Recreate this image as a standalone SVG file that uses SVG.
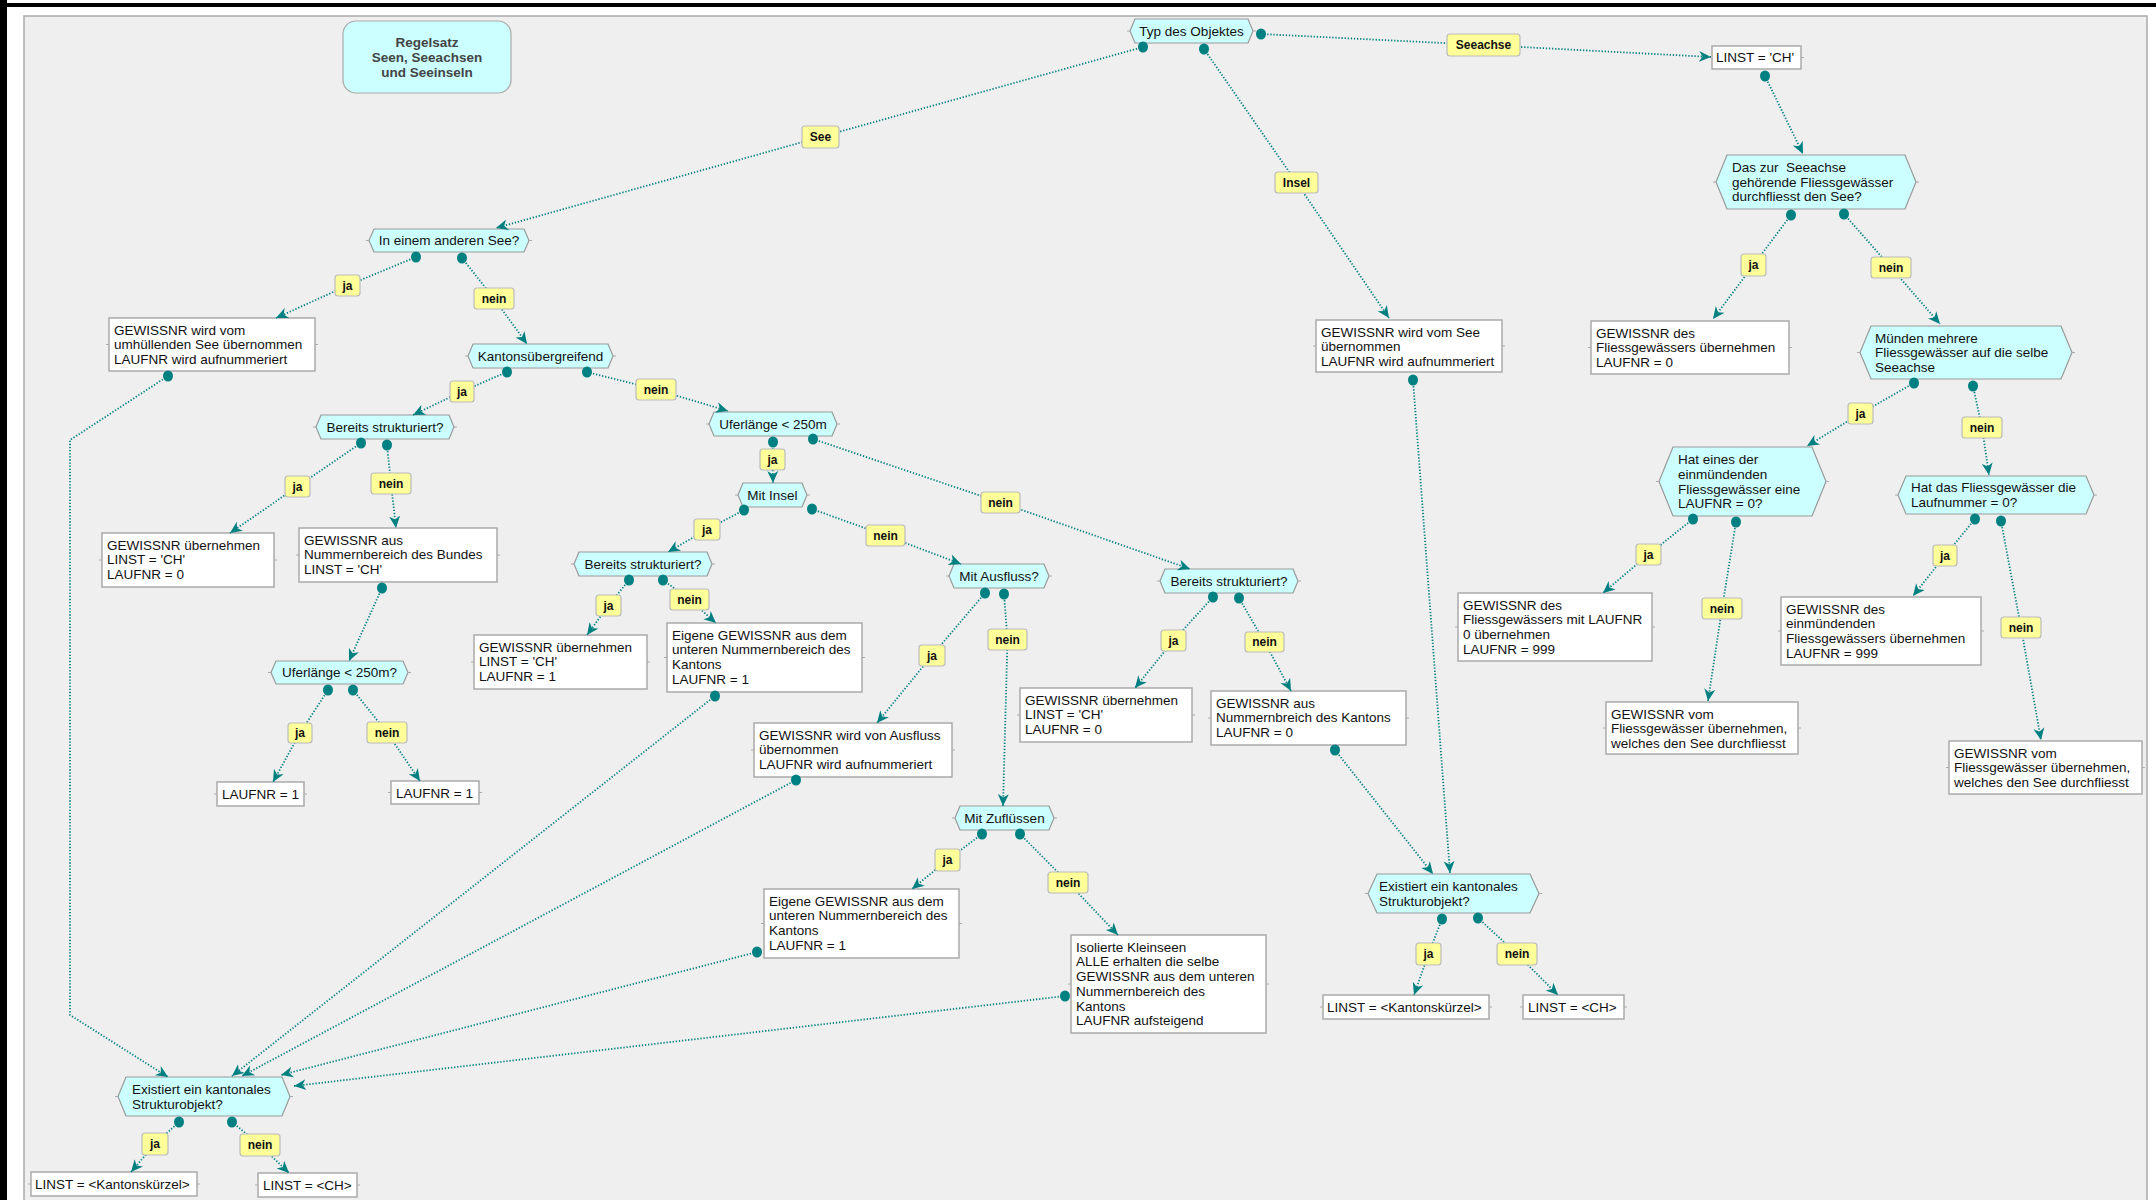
<svg xmlns="http://www.w3.org/2000/svg" width="2156" height="1200" viewBox="0 0 2156 1200">
<defs>
<style>
text{font-family:"Liberation Sans",Arial,sans-serif;font-size:13.5px;fill:#111}
.hx{fill:#ccffff;stroke:#999;stroke-width:1.2}
.bx{fill:#fff;stroke:#aaa;stroke-width:1.5}
.lb{fill:#ffff99;stroke:#bbb;stroke-width:1.2}
.lt{font-weight:bold;font-size:12px;text-anchor:middle}
.c{text-anchor:middle}
.tk{stroke:#aaa;stroke-width:1;fill:none}
.cn{fill:none;stroke:#008080;stroke-width:1.8;stroke-dasharray:1.3 1.8;marker-start:url(#dot);marker-end:url(#arr)}
.ttl{font-weight:bold;fill:#444;text-anchor:middle}
</style>
<marker id="arr" markerUnits="userSpaceOnUse" markerWidth="14" markerHeight="14" refX="12" refY="6" orient="auto" viewBox="0 0 14 12"><path d="M0,0.5 L12,6 L0,11.5 L3.5,6 Z" fill="#008080"/></marker>
<marker id="dot" markerUnits="userSpaceOnUse" markerWidth="12" markerHeight="13" refX="6" refY="6.5" viewBox="0 0 12 13"><ellipse cx="6" cy="6.5" rx="5" ry="5.6" fill="#008080"/></marker>
</defs>
<rect x="0" y="0" width="2156" height="1200" fill="#fff"/>
<rect x="0" y="3" width="2156" height="4" fill="#000"/>
<rect x="0" y="0" width="7" height="1200" fill="#000"/>
<rect x="24" y="16" width="2123" height="1200" fill="#efefef" stroke="#aaa" stroke-width="1.5"/>

<g id="title"><rect x="343" y="21" width="168" height="72" rx="13" fill="#ccffff" stroke="#aaa" stroke-width="1.2"/>
<text class="ttl" x="427" y="46.7">Regelsatz</text><text class="ttl" x="427" y="61.7">Seen, Seeachsen</text><text class="ttl" x="427" y="76.7">und Seeinseln</text></g>

<g id="n_typ"><polygon class="hx" points="1130,31 1135,19 1248,19 1253,31 1248,43 1135,43"/><path class="tk" d="M1127,31h3M1253,31h3"/><text class="c" x="1191.5" y="35.7">Typ des Objektes</text></g>
<g id="n_anderer_see"><polygon class="hx" points="369,240.5 374,229 524,229 529,240.5 524,252 374,252"/><path class="tk" d="M366,240.5h3M529,240.5h3"/><text class="c" x="449" y="245.2">In einem anderen See?</text></g>
<g id="n_kantons"><polygon class="hx" points="468,356 473,344 608,344 613,356 608,368 473,368"/><path class="tk" d="M465,356h3M613,356h3"/><text class="c" x="540.5" y="360.7">Kantonsübergreifend</text></g>
<g id="n_bereits_l"><polygon class="hx" points="316,427 321,415 449,415 454,427 449,439 321,439"/><path class="tk" d="M313,427h3M454,427h3"/><text class="c" x="385" y="431.7">Bereits strukturiert?</text></g>
<g id="n_ufer_l"><polygon class="hx" points="271,672.5 276,661 403,661 408,672.5 403,684 276,684"/><path class="tk" d="M268,672.5h3M408,672.5h3"/><text class="c" x="339.5" y="677.2">Uferlänge &lt; 250m?</text></g>
<g id="n_ufer_m"><polygon class="hx" points="709,424 714,412 832,412 837,424 832,436 714,436"/><path class="tk" d="M706,424h3M837,424h3"/><text class="c" x="773" y="428.7">Uferlänge &lt; 250m</text></g>
<g id="n_insel"><polygon class="hx" points="738,495 743,483 802,483 807,495 802,507 743,507"/><path class="tk" d="M735,495h3M807,495h3"/><text class="c" x="772.5" y="499.7">Mit Insel</text></g>
<g id="n_bereits_m"><polygon class="hx" points="574,564 579,552 707,552 712,564 707,576 579,576"/><path class="tk" d="M571,564h3M712,564h3"/><text class="c" x="643" y="568.7">Bereits strukturiert?</text></g>
<g id="n_ausfluss"><polygon class="hx" points="949,576 954,564 1044,564 1049,576 1044,588 954,588"/><path class="tk" d="M946,576h3M1049,576h3"/><text class="c" x="999" y="580.7">Mit Ausfluss?</text></g>
<g id="n_bereits_r"><polygon class="hx" points="1160,581 1165,569 1293,569 1298,581 1293,593 1165,593"/><path class="tk" d="M1157,581h3M1298,581h3"/><text class="c" x="1229" y="585.7">Bereits strukturiert?</text></g>
<g id="n_zufluesse"><polygon class="hx" points="955,818 960,806 1049,806 1054,818 1049,830 960,830"/><path class="tk" d="M952,818h3M1054,818h3"/><text class="c" x="1004.5" y="822.7">Mit Zuflüssen</text></g>
<g id="n_daszur"><polygon class="hx" points="1716,182 1727,155 1905,155 1916,182 1905,209 1727,209"/><path class="tk" d="M1713,182h3M1916,182h3"/><text x="1732" y="172" xml:space="preserve" style="white-space:pre">Das zur  Seeachse</text><text x="1732" y="186.7">gehörende Fliessgewässer</text><text x="1732" y="201.4">durchfliesst den See?</text></g>
<g id="n_muenden"><polygon class="hx" points="1860,352.5 1871,326 2061,326 2072,352.5 2061,379 1871,379"/><path class="tk" d="M1857,352.5h3M2072,352.5h3"/><text x="1875" y="342.5">Münden mehrere</text><text x="1875" y="357.2">Fliessgewässer auf die selbe</text><text x="1875" y="371.9">Seeachse</text></g>
<g id="n_hateines"><polygon class="hx" points="1659,481.5 1673,447 1812,447 1826,481.5 1812,516 1673,516"/><path class="tk" d="M1656,481.5h3M1826,481.5h3"/><text x="1678" y="464.2">Hat eines der</text><text x="1678" y="478.9">einmündenden</text><text x="1678" y="493.6">Fliessgewässer eine</text><text x="1678" y="508.3">LAUFNR = 0?</text></g>
<g id="n_hatdas"><polygon class="hx" points="1898,495 1906,476 2086,476 2094,495 2086,514 1906,514"/><path class="tk" d="M1895,495h3M2094,495h3"/><text x="1911" y="492.3">Hat das Fliessgewässer die</text><text x="1911" y="507">Laufnummer = 0?</text></g>
<g id="n_existiert_l"><polygon class="hx" points="118,1096.5 126,1077 282,1077 290,1096.5 282,1116 126,1116"/><path class="tk" d="M115,1096.5h3M290,1096.5h3"/><text x="132" y="1093.8">Existiert ein kantonales</text><text x="132" y="1108.5">Strukturobjekt?</text></g>
<g id="n_existiert_r"><polygon class="hx" points="1368,893.5 1377,874 1530,874 1539,893.5 1530,913 1377,913"/><path class="tk" d="M1365,893.5h3M1539,893.5h3"/><text x="1379" y="890.8">Existiert ein kantonales</text><text x="1379" y="905.5">Strukturobjekt?</text></g>

<g id="b_umhuellend"><rect class="bx" x="109" y="318" width="206" height="53"/><path class="tk" d="M106,344.5h3M315,344.5h3"/><text x="114" y="334.7">GEWISSNR wird vom</text><text x="114" y="349.4">umhüllenden See übernommen</text><text x="114" y="364.1">LAUFNR wird aufnummeriert</text></g>
<g id="b_insel"><rect class="bx" x="1316" y="320" width="186" height="52"/><path class="tk" d="M1313,346h3M1502,346h3"/><text x="1321" y="336.7">GEWISSNR wird vom See</text><text x="1321" y="351.4">übernommen</text><text x="1321" y="366.1">LAUFNR wird aufnummeriert</text></g>
<g id="b_linst_ch"><rect class="bx" x="1712" y="46" width="89" height="23"/><path class="tk" d="M1801,57.5h3"/><text x="1716" y="62.2">LINST = 'CH'</text></g>
<g id="b_fliess0"><rect class="bx" x="1591" y="321" width="198" height="53"/><path class="tk" d="M1588,347.5h3M1789,347.5h3"/><text x="1596" y="337.7">GEWISSNR des</text><text x="1596" y="352.4">Fliessgewässers übernehmen</text><text x="1596" y="367.1">LAUFNR = 0</text></g>
<g id="b_999a"><rect class="bx" x="1458" y="593" width="194" height="68"/><path class="tk" d="M1455,627h3M1652,627h3"/><text x="1463" y="609.7">GEWISSNR des</text><text x="1463" y="624.4">Fliessgewässers mit LAUFNR</text><text x="1463" y="639.1">0 übernehmen</text><text x="1463" y="653.8">LAUFNR = 999</text></g>
<g id="b_vom1"><rect class="bx" x="1606" y="702" width="192" height="52"/><path class="tk" d="M1603,728h3M1798,728h3"/><text x="1611" y="718.7">GEWISSNR vom</text><text x="1611" y="733.4">Fliessgewässer übernehmen,</text><text x="1611" y="748.1">welches den See durchfliesst</text></g>
<g id="b_999b"><rect class="bx" x="1781" y="597" width="200" height="68"/><path class="tk" d="M1778,631h3M1981,631h3"/><text x="1786" y="613.7">GEWISSNR des</text><text x="1786" y="628.4">einmündenden</text><text x="1786" y="643.1">Fliessgewässers übernehmen</text><text x="1786" y="657.8">LAUFNR = 999</text></g>
<g id="b_vom2"><rect class="bx" x="1949" y="741" width="193" height="53"/><path class="tk" d="M1946,767.5h3M2142,767.5h3"/><text x="1954" y="757.7">GEWISSNR vom</text><text x="1954" y="772.4">Fliessgewässer übernehmen,</text><text x="1954" y="787.1">welches den See durchfliesst</text></g>
<g id="b_ch0"><rect class="bx" x="102" y="533" width="172" height="54"/><path class="tk" d="M99,560h3M274,560h3"/><text x="107" y="549.7">GEWISSNR übernehmen</text><text x="107" y="564.4">LINST = 'CH'</text><text x="107" y="579.1">LAUFNR = 0</text></g>
<g id="b_bundes"><rect class="bx" x="299" y="528" width="198" height="54"/><path class="tk" d="M296,555h3M497,555h3"/><text x="304" y="544.7">GEWISSNR aus</text><text x="304" y="559.4">Nummernbereich des Bundes</text><text x="304" y="574.1">LINST = 'CH'</text></g>
<g id="b_laufnr1_l"><rect class="bx" x="217" y="782" width="87" height="24"/><path class="tk" d="M214,794h3M304,794h3"/><text x="222" y="798.7">LAUFNR = 1</text></g>
<g id="b_laufnr1_r"><rect class="bx" x="391" y="781" width="88" height="23"/><path class="tk" d="M388,792.5h3M479,792.5h3"/><text x="396" y="797.5">LAUFNR = 1</text></g>
<g id="b_ch1"><rect class="bx" x="474" y="635" width="173" height="54"/><path class="tk" d="M471,662h3M647,662h3"/><text x="479" y="651.7">GEWISSNR übernehmen</text><text x="479" y="666.4">LINST = 'CH'</text><text x="479" y="681.1">LAUFNR = 1</text></g>
<g id="b_eigene1"><rect class="bx" x="667" y="623" width="195" height="69"/><path class="tk" d="M664,657.5h3M862,657.5h3"/><text x="672" y="639.7">Eigene GEWISSNR aus dem</text><text x="672" y="654.4">unteren Nummernbereich des</text><text x="672" y="669.1">Kantons</text><text x="672" y="683.8">LAUFNR = 1</text></g>
<g id="b_ausfluss"><rect class="bx" x="754" y="723" width="198" height="54"/><path class="tk" d="M751,750h3M952,750h3"/><text x="759" y="739.7">GEWISSNR wird von Ausfluss</text><text x="759" y="754.4">übernommen</text><text x="759" y="769.1">LAUFNR wird aufnummeriert</text></g>
<g id="b_ch0b"><rect class="bx" x="1020" y="688" width="172" height="54"/><path class="tk" d="M1017,715h3M1192,715h3"/><text x="1025" y="704.7">GEWISSNR übernehmen</text><text x="1025" y="719.4">LINST = 'CH'</text><text x="1025" y="734.1">LAUFNR = 0</text></g>
<g id="b_kantons"><rect class="bx" x="1211" y="691" width="195" height="54"/><path class="tk" d="M1208,718h3M1406,718h3"/><text x="1216" y="707.7">GEWISSNR aus</text><text x="1216" y="722.4">Nummernbreich des Kantons</text><text x="1216" y="737.1">LAUFNR = 0</text></g>
<g id="b_eigene2"><rect class="bx" x="764" y="889" width="195" height="69"/><path class="tk" d="M761,923.5h3M959,923.5h3"/><text x="769" y="905.7">Eigene GEWISSNR aus dem</text><text x="769" y="920.4">unteren Nummernbereich des</text><text x="769" y="935.1">Kantons</text><text x="769" y="949.8">LAUFNR = 1</text></g>
<g id="b_isoliert"><rect class="bx" x="1071" y="935" width="195" height="98"/><path class="tk" d="M1068,984h3M1266,984h3"/><text x="1076" y="951.7">Isolierte Kleinseen</text><text x="1076" y="966.4">ALLE erhalten die selbe</text><text x="1076" y="981.1">GEWISSNR aus dem unteren</text><text x="1076" y="995.8">Nummernbereich des</text><text x="1076" y="1010.5">Kantons</text><text x="1076" y="1025.2">LAUFNR aufsteigend</text></g>
<g id="b_kk_l"><rect class="bx" x="31" y="1172" width="166" height="24"/><path class="tk" d="M28,1184h3M197,1184h3"/><text x="35" y="1188.7">LINST = &lt;Kantonskürzel&gt;</text></g>
<g id="b_ch_l"><rect class="bx" x="258" y="1173" width="99" height="24"/><path class="tk" d="M255,1185h3M357,1185h3"/><text x="263" y="1189.7">LINST = &lt;CH&gt;</text></g>
<g id="b_kk_r"><rect class="bx" x="1323" y="995" width="166" height="24"/><path class="tk" d="M1320,1007h3M1489,1007h3"/><text x="1327" y="1011.7">LINST = &lt;Kantonskürzel&gt;</text></g>
<g id="b_ch_r"><rect class="bx" x="1523" y="995" width="101" height="24"/><path class="tk" d="M1520,1007h3M1624,1007h3"/><text x="1528" y="1011.7">LINST = &lt;CH&gt;</text></g>

<g id="connectors">
<path class="cn" d="M1143,47 L820.5,137 L496,228"/>
<path class="cn" d="M1204,49 L1296.5,182.5 L1389,318"/>
<path class="cn" d="M1261,34 L1483.5,45 L1711,57"/>
<path class="cn" d="M1765,76 L1803,154"/>
<path class="cn" d="M1791,215 L1753.5,265 L1713,319"/>
<path class="cn" d="M1844,214 L1891,267.5 L1940,324"/>
<path class="cn" d="M1914,383 L1860.5,413.5 L1807,446"/>
<path class="cn" d="M1973,386 L1982,427.5 L1989,475"/>
<path class="cn" d="M1693,519 L1648.5,554.5 L1603,593"/>
<path class="cn" d="M1736,522 L1722,608.5 L1708,701"/>
<path class="cn" d="M1975,519 L1945,555.5 L1913,596"/>
<path class="cn" d="M2001,521 L2021,627.5 L2041,740"/>
<path class="cn" d="M1413,380 L1450,873"/>
<path class="cn" d="M416,257 L347.5,285.5 L276,318"/>
<path class="cn" d="M462,258 L494,298.5 L527,344"/>
<path class="cn" d="M507,372 L462,391.5 L413,415"/>
<path class="cn" d="M587,372 L656,389.5 L728,411"/>
<path class="cn" d="M361,443 L297.5,486.5 L230,533"/>
<path class="cn" d="M387,445 L391,483.5 L396,528"/>
<path class="cn" d="M382,588 L349,661"/>
<path class="cn" d="M328,690 L300,733 L273,782"/>
<path class="cn" d="M353,690 L387,732.5 L420,781"/>
<path class="cn" d="M773,442 L772.5,459.5 L773,483"/>
<path class="cn" d="M813,439 L1000.5,502.5 L1190,569"/>
<path class="cn" d="M744,510 L707,529.5 L668,552"/>
<path class="cn" d="M812,509 L885.5,535.5 L961,564"/>
<path class="cn" d="M629,580 L608.5,605.5 L587,635"/>
<path class="cn" d="M663,580 L689.5,599.5 L716,623"/>
<path class="cn" d="M985,593 L932,655.5 L877,723"/>
<path class="cn" d="M1004,594 L1007.5,639.5 L1003,806"/>
<path class="cn" d="M1213,597 L1173.5,640.5 L1135,688"/>
<path class="cn" d="M1239,598 L1264.5,642 L1291,691"/>
<path class="cn" d="M982,834 L947.5,860 L912,889"/>
<path class="cn" d="M1020,834 L1068,882.5 L1118,935"/>
<path class="cn" d="M168,376 L70,440 L70,1015 L168,1077"/>
<path class="cn" d="M715,696 L232,1076"/>
<path class="cn" d="M796,780 L242,1076"/>
<path class="cn" d="M757,952 L281,1075"/>
<path class="cn" d="M1065,996 L294,1086"/>
<path class="cn" d="M1335,750 L1433,874"/>
<path class="cn" d="M179,1122 L155,1144 L131,1172"/>
<path class="cn" d="M232,1122 L260,1145 L289,1173"/>
<path class="cn" d="M1442,919 L1428.5,954 L1414,995"/>
<path class="cn" d="M1478,918 L1517,954 L1558,995"/>
</g>

<g id="labels">
<rect class="lb" x="802" y="126" width="37" height="22" rx="3"/><text class="lt" x="820.5" y="141.3">See</text>
<rect class="lb" x="1275" y="172" width="43" height="21" rx="3"/><text class="lt" x="1296.5" y="186.8">Insel</text>
<rect class="lb" x="1447" y="34" width="73" height="22" rx="3"/><text class="lt" x="1483.5" y="49.3">Seeachse</text>
<rect class="lb" x="1741" y="254" width="25" height="22" rx="3"/><text class="lt" x="1753.5" y="269.3">ja</text>
<rect class="lb" x="1871" y="257" width="40" height="21" rx="3"/><text class="lt" x="1891" y="271.8">nein</text>
<rect class="lb" x="1848" y="403" width="25" height="21" rx="3"/><text class="lt" x="1860.5" y="417.8">ja</text>
<rect class="lb" x="1962" y="417" width="40" height="21" rx="3"/><text class="lt" x="1982" y="431.8">nein</text>
<rect class="lb" x="1636" y="544" width="25" height="21" rx="3"/><text class="lt" x="1648.5" y="558.8">ja</text>
<rect class="lb" x="1702" y="598" width="40" height="21" rx="3"/><text class="lt" x="1722" y="612.8">nein</text>
<rect class="lb" x="1933" y="545" width="24" height="21" rx="3"/><text class="lt" x="1945" y="559.8">ja</text>
<rect class="lb" x="2001" y="617" width="40" height="21" rx="3"/><text class="lt" x="2021" y="631.8">nein</text>
<rect class="lb" x="335" y="275" width="25" height="21" rx="3"/><text class="lt" x="347.5" y="289.8">ja</text>
<rect class="lb" x="474" y="288" width="40" height="21" rx="3"/><text class="lt" x="494" y="302.8">nein</text>
<rect class="lb" x="450" y="381" width="24" height="21" rx="3"/><text class="lt" x="462" y="395.8">ja</text>
<rect class="lb" x="636" y="379" width="40" height="21" rx="3"/><text class="lt" x="656" y="393.8">nein</text>
<rect class="lb" x="285" y="476" width="25" height="21" rx="3"/><text class="lt" x="297.5" y="490.8">ja</text>
<rect class="lb" x="371" y="473" width="40" height="21" rx="3"/><text class="lt" x="391" y="487.8">nein</text>
<rect class="lb" x="288" y="723" width="24" height="20" rx="3"/><text class="lt" x="300" y="737.3">ja</text>
<rect class="lb" x="367" y="722" width="40" height="21" rx="3"/><text class="lt" x="387" y="736.8">nein</text>
<rect class="lb" x="760" y="449" width="25" height="21" rx="3"/><text class="lt" x="772.5" y="463.8">ja</text>
<rect class="lb" x="981" y="492" width="39" height="21" rx="3"/><text class="lt" x="1000.5" y="506.8">nein</text>
<rect class="lb" x="694" y="519" width="26" height="21" rx="3"/><text class="lt" x="707" y="533.8">ja</text>
<rect class="lb" x="866" y="525" width="39" height="21" rx="3"/><text class="lt" x="885.5" y="539.8">nein</text>
<rect class="lb" x="596" y="595" width="25" height="21" rx="3"/><text class="lt" x="608.5" y="609.8">ja</text>
<rect class="lb" x="670" y="589" width="39" height="21" rx="3"/><text class="lt" x="689.5" y="603.8">nein</text>
<rect class="lb" x="919" y="645" width="26" height="21" rx="3"/><text class="lt" x="932" y="659.8">ja</text>
<rect class="lb" x="988" y="629" width="39" height="21" rx="3"/><text class="lt" x="1007.5" y="643.8">nein</text>
<rect class="lb" x="1161" y="630" width="25" height="21" rx="3"/><text class="lt" x="1173.5" y="644.8">ja</text>
<rect class="lb" x="1245" y="632" width="39" height="20" rx="3"/><text class="lt" x="1264.5" y="646.3">nein</text>
<rect class="lb" x="935" y="849" width="25" height="22" rx="3"/><text class="lt" x="947.5" y="864.3">ja</text>
<rect class="lb" x="1048" y="872" width="40" height="21" rx="3"/><text class="lt" x="1068" y="886.8">nein</text>
<rect class="lb" x="142" y="1133" width="26" height="22" rx="3"/><text class="lt" x="155" y="1148.3">ja</text>
<rect class="lb" x="240" y="1134" width="40" height="22" rx="3"/><text class="lt" x="260" y="1149.3">nein</text>
<rect class="lb" x="1416" y="943" width="25" height="22" rx="3"/><text class="lt" x="1428.5" y="958.3">ja</text>
<rect class="lb" x="1497" y="943" width="40" height="22" rx="3"/><text class="lt" x="1517" y="958.3">nein</text>
</g>
</svg>
